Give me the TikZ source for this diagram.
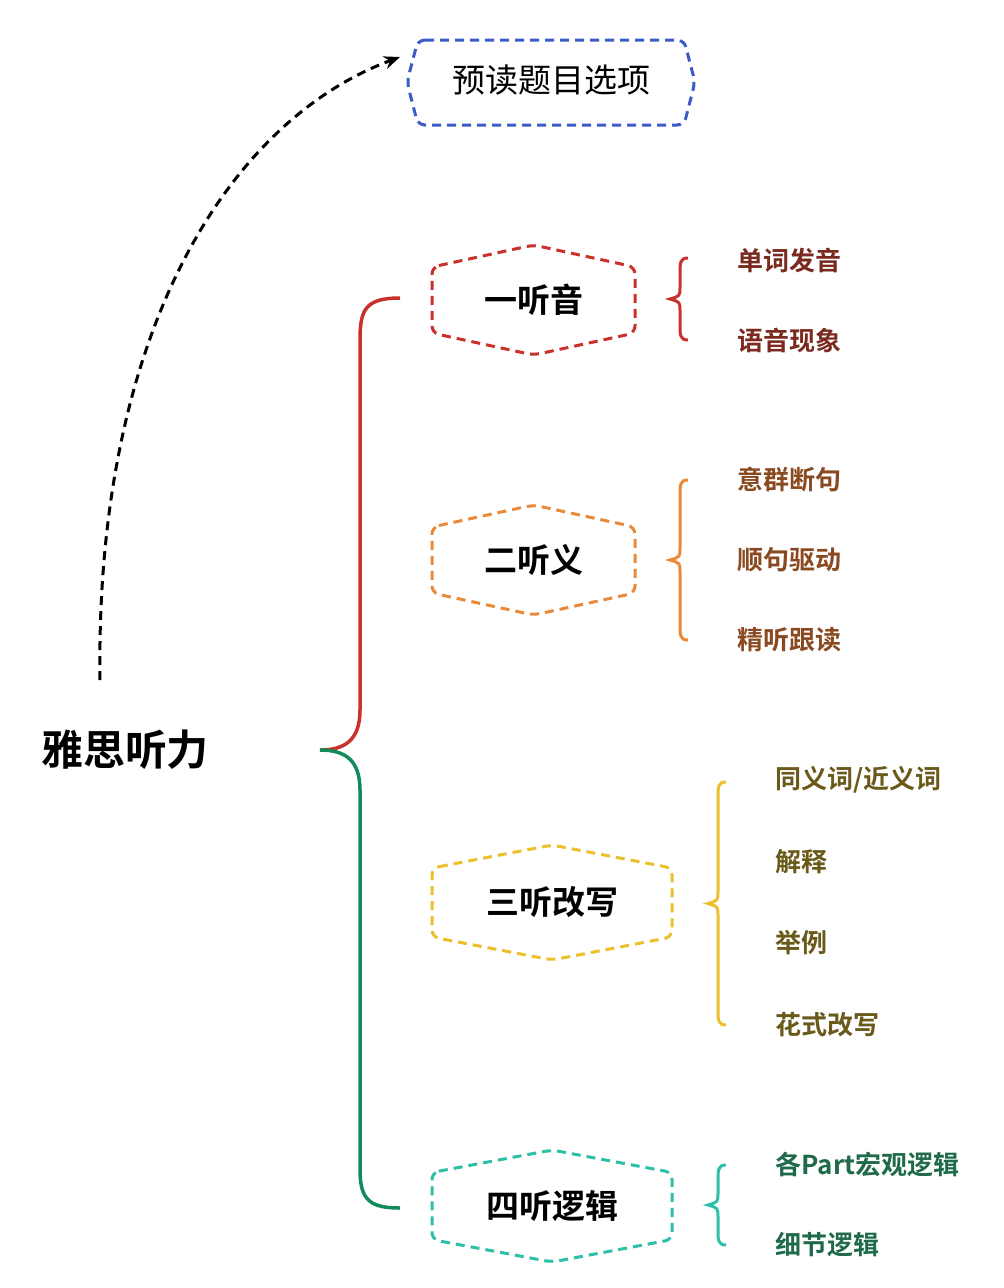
\documentclass[tikz,border=0pt]{standalone}
\usepackage{fontspec}
\newfontfamily\cjk{Noto Sans CJK SC}[BoldFont={Noto Sans CJK SC Bold}]
\usetikzlibrary{arrows.meta}
\definecolor{cblue}{HTML}{3B5BC8}
\definecolor{cred}{HTML}{C8322A}
\definecolor{corange}{HTML}{E88A3A}
\definecolor{cyellow}{HTML}{EBC02A}
\definecolor{cteal}{HTML}{2DBFA8}
\definecolor{cgreen}{HTML}{138A5A}
\definecolor{tred}{HTML}{7A2A1E}
\definecolor{torange}{HTML}{8A4A20}
\definecolor{tyellow}{HTML}{6A5A1A}
\definecolor{tteal}{HTML}{1E6A4A}
\tikzset{
  hx/.style={line width=3pt,dash pattern=on 9pt off 6pt,rounded corners=7pt},
  lab/.style={font=\cjk\bfseries\fontsize{33}{33}\selectfont},
  sub/.style={font=\cjk\bfseries\fontsize{26}{26}\selectfont,anchor=west},
  br/.style={line width=3.5pt}
}
\newcommand{\hexa}[6]{% x1 x2 ytop ybot colour
  \draw[hx,#5] (#1,{#3+0.2*(#4-#3)}) -- ({(#1+#2)/2},#3) -- (#2,{#3+0.2*(#4-#3)}) -- (#2,{#4-0.2*(#4-#3)}) -- ({(#1+#2)/2},#4) -- (#1,{#4-0.2*(#4-#3)}) -- cycle;
  \node[lab] (#6) at ({(#1+#2)/2},{(#3+#4)/2}) {#6};}
\newcommand{\sbrace}[4]{% x ytop ybot colour
  \draw[line width=3pt,#4] (#1+8,#2) .. controls (#1,#2) and (#1,#2+5) .. (#1,#2+15) -- (#1,{(#2+#3)/2-12}) .. controls (#1,{(#2+#3)/2-3}) .. (#1-10,{(#2+#3)/2})
   .. controls (#1,{(#2+#3)/2+3}) .. (#1,{(#2+#3)/2+12}) -- (#1,#3-15) .. controls (#1,#3-5) and (#1,#3) .. (#1+8,#3);}
\begin{document}
\begin{tikzpicture}[x=1pt,y=-1pt]
\useasboundingbox (0,0) rectangle (1004,1288);
\fill[white] (0,0) rectangle (1004,1288);
\draw[hx,cblue] (418,40) -- (684,40) -- (695,82) -- (684,125) -- (418,125) -- (407,82) -- cycle;
\node[font=\cjk\fontsize{33}{33}\selectfont] (top) at (551,80) {预读题目选项};
\node[font=\cjk\bfseries\fontsize{42}{42}\selectfont] (root) at (125,750) {雅思听力};
\coordinate (s) at (100,680);
\coordinate (e) at (400,57);
\draw[line width=3pt,dash pattern=on 9pt off 6pt,-{Stealth[length=16pt,width=13pt]}] (s) .. controls (95,330) and (230,120) .. (e);
\draw[br,cred] (400,298) .. controls (365,298) and (360,310) .. (360,340) -- (360,710) .. controls (360,740) and (345,750) .. (320,750);
\draw[br,cgreen] (320,750) .. controls (345,750) and (360,760) .. (360,790) -- (360,1170) .. controls (360,1200) and (370,1208) .. (400,1208);
\hexa{432}{635}{245}{355}{cred}{一听音}
\hexa{432}{635}{505}{615}{corange}{二听义}
\hexa{432}{672}{845}{960}{cyellow}{三听改写}
\hexa{432}{672}{1150}{1262}{cteal}{四听逻辑}
\sbrace{680}{258}{340}{cred}
\sbrace{680}{480}{640}{corange}
\sbrace{718}{782}{1025}{cyellow}
\sbrace{718}{1165}{1245}{cteal}
\node[sub,tred] (a1) at (734,260) {单词发音};
\node[sub,tred] (a2) at (734,340) {语音现象};
\node[sub,torange] (b1) at (734,480) {意群断句};
\node[sub,torange] (b2) at (734,560) {顺句驱动};
\node[sub,torange] (b3) at (734,640) {精听跟读};
\node[sub,tyellow] (c1) at (772,780) {同义词/近义词};
\node[sub,tyellow] (c2) at (772,862) {解释};
\node[sub,tyellow] (c3) at (772,943) {举例};
\node[sub,tyellow] (c4) at (772,1025) {花式改写};
\node[sub,tteal] (d1) at (772,1165) {各Part宏观逻辑};
\node[sub,tteal] (d2) at (772,1245) {细节逻辑};
\end{tikzpicture}
\end{document}
